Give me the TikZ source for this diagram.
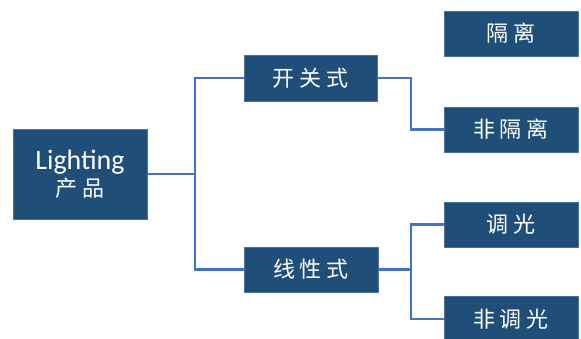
\documentclass[tikz,border=0pt]{standalone}
\usepackage{fontspec}
\setmainfont{Carlito}
\newfontfamily\cjk{Noto Sans CJK SC}
\definecolor{boxblue}{HTML}{1F4E79}
\definecolor{linkblue}{HTML}{4472C4}
\newcommand\cgap{\hspace{5pt}}
\tikzset{
  nbox/.style={fill=boxblue, draw=boxblue!80!white, line width=0.4pt, text=white, inner sep=0pt,
    minimum width=134pt, minimum height=45pt, font=\cjk\fontsize{22}{24}\selectfont},
  link/.style={draw=linkblue, line width=2.2pt, line join=miter}
}
\begin{document}
\begin{tikzpicture}[x=1pt, y=-1pt]
\useasboundingbox (0,0) rectangle (581,338);
\node[nbox, minimum height=90pt, align=center] (root) at (80,174)
  {{\fontspec{Carlito}\fontsize{28}{30}\selectfont Lighting}\\[3pt]{\cjk\fontsize{22}{24}\selectfont 产\cgap 品}};
\node[nbox, minimum width=133pt, minimum height=46pt] (kg) at (310.5,78) {开\cgap 关\cgap 式};
\node[nbox] (xx) at (311,269.5) {线\cgap 性\cgap 式};
\node[nbox] (gl) at (511,33.5) {隔\cgap 离};
\node[nbox] (fgl) at (511,129.5) {非\cgap 隔\cgap 离};
\node[nbox] (tg) at (511,224.5) {调\cgap 光};
\node[nbox] (ftg) at (511,319) {非\cgap 调\cgap 光};
\coordinate (j1) at (195,174);
\coordinate (j2) at (411,100);
\coordinate (j3) at (411,269.5);
\draw[link] (root.east) -- (j1);
\draw[link] (kg.west) -| (j1) |- (xx.west);
\draw[link] (kg.east) -| (j2) |- (fgl.west);
\draw[link] (xx.east) -- (j3);
\draw[link] (tg.west) -| (j3) |- (ftg.west);
\end{tikzpicture}
\end{document}
